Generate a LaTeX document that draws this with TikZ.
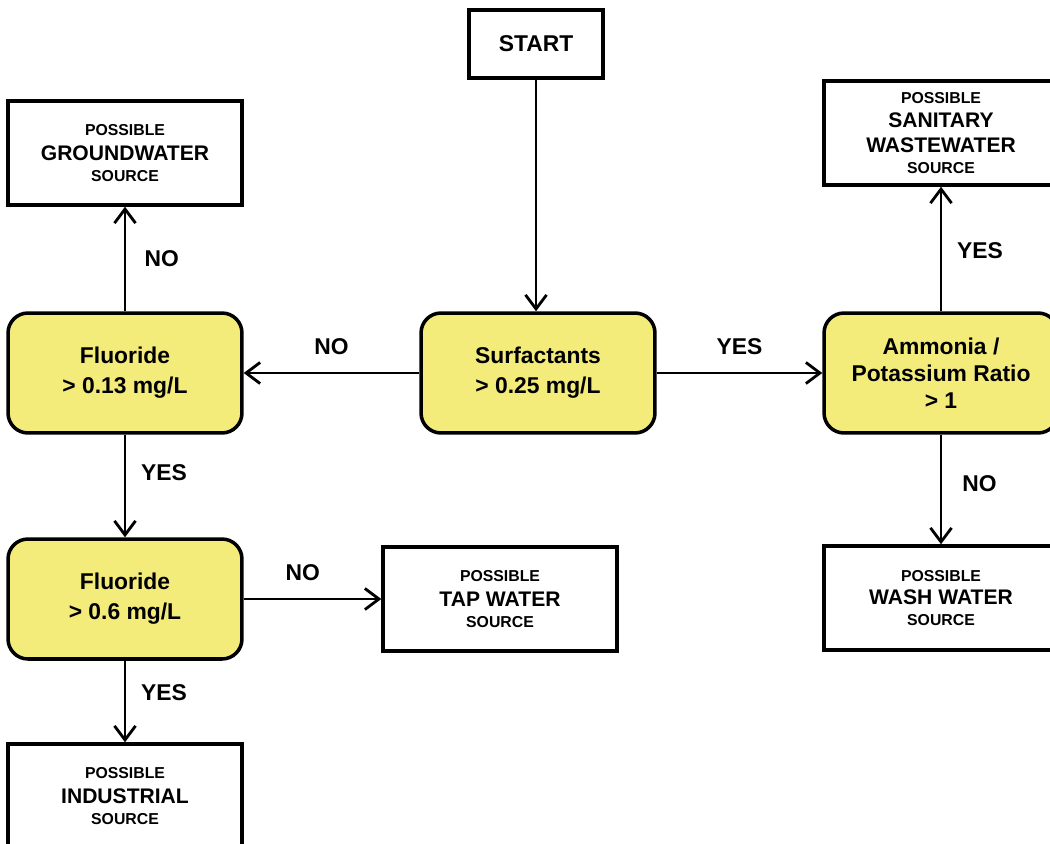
\documentclass[tikz,border=0pt]{standalone}
\usepackage{fontspec}
\setmainfont{Liberation Sans}
\usetikzlibrary{arrows.meta}

\definecolor{testyellow}{RGB}{243,235,122}
\newcommand{\smalltxt}{\fontsize{9}{11}\selectfont}
\newcommand{\bigtxt}{\fontsize{12}{14}\selectfont}

\begin{document}
\begin{tikzpicture}[
    x=0.02cm, y=-0.02cm,
    every node/.style={font=\bfseries\fontsize{13}{16}\selectfont},
    testbox/.style={draw, line width=2pt, rounded corners=0.4cm, fill=testyellow,
      minimum width=4.68cm, minimum height=2.4cm, align=center,
      font=\bfseries\fontsize{13}{17}\selectfont},
    sourcebox/.style={draw, line width=2pt, fill=white,
      minimum width=4.68cm, minimum height=2.08cm, align=center,
      font=\bfseries\fontsize{12}{14}\selectfont},
    myarrow/.style={line width=1.6pt, -{Straight Barb[length=8pt,width=12pt]}}
  ]

    \useasboundingbox (0,0) rectangle (1050,844);
    \clip (0,0) rectangle (1050,844);

    % boxes
    \node[draw, line width=2pt, minimum width=2.68cm, minimum height=1.36cm] (start) at (536,44) {START};
    \node[testbox] (surf) at (538,373) {Surfactants\\> 0.25 mg/L};
    \node[testbox] (fluA) at (125,373) {Fluoride\\> 0.13 mg/L};
    \node[testbox] (fluB) at (125,599) {Fluoride\\> 0.6 mg/L};
    \node[testbox, font=\bfseries\fontsize{13}{15.5}\selectfont] (ammo) at (941,373) {Ammonia /\\Potassium Ratio\\> 1};

    \node[sourcebox] (ground) at (125,153) {\smalltxt POSSIBLE\\\bigtxt GROUNDWATER\\[-2pt]\smalltxt SOURCE};
    \node[sourcebox] (sanit) at (941,133) {\smalltxt POSSIBLE\\\bigtxt SANITARY\\\bigtxt WASTEWATER\\[-2pt]\smalltxt SOURCE};
    \node[sourcebox] (tap) at (500,599) {\smalltxt POSSIBLE\\\bigtxt TAP WATER\\[-2pt]\smalltxt SOURCE};
    \node[sourcebox] (wash) at (941,598) {\smalltxt POSSIBLE\\[-1pt]\bigtxt WASH WATER\\[-2pt]\smalltxt SOURCE};
    \node[sourcebox] (indus) at (125,796) {\smalltxt POSSIBLE\\\bigtxt INDUSTRIAL\\[-2pt]\smalltxt SOURCE};

    % connectors
    \draw[myarrow] (start.south) -- (surf.north -| start.south);
    \draw[myarrow] (surf) -- node[above=6pt] (noA) {NO} (fluA);
    \draw[myarrow] (surf) -- node[above=6pt] (yesA) {YES} (ammo);
    \draw[myarrow] (fluA) -- node[right=7pt] (noB) {NO} (ground);
    \draw[myarrow] (fluA) -- node[pos=0.37, right=5pt] (yesB) {YES} (fluB);
    \draw[myarrow] (fluB) -- node[pos=0.43, above=6pt] (noC) {NO} (tap);
    \draw[myarrow] (fluB) -- node[pos=0.39, right=5pt] (yesC) {YES} (indus);
    \draw[myarrow] (ammo) -- node[pos=0.49, right=5pt] (yesD) {YES} (sanit);
    \draw[myarrow] (ammo) -- node[pos=0.45, right=8pt] (noD) {NO} (wash);

\end{tikzpicture}
\end{document}
